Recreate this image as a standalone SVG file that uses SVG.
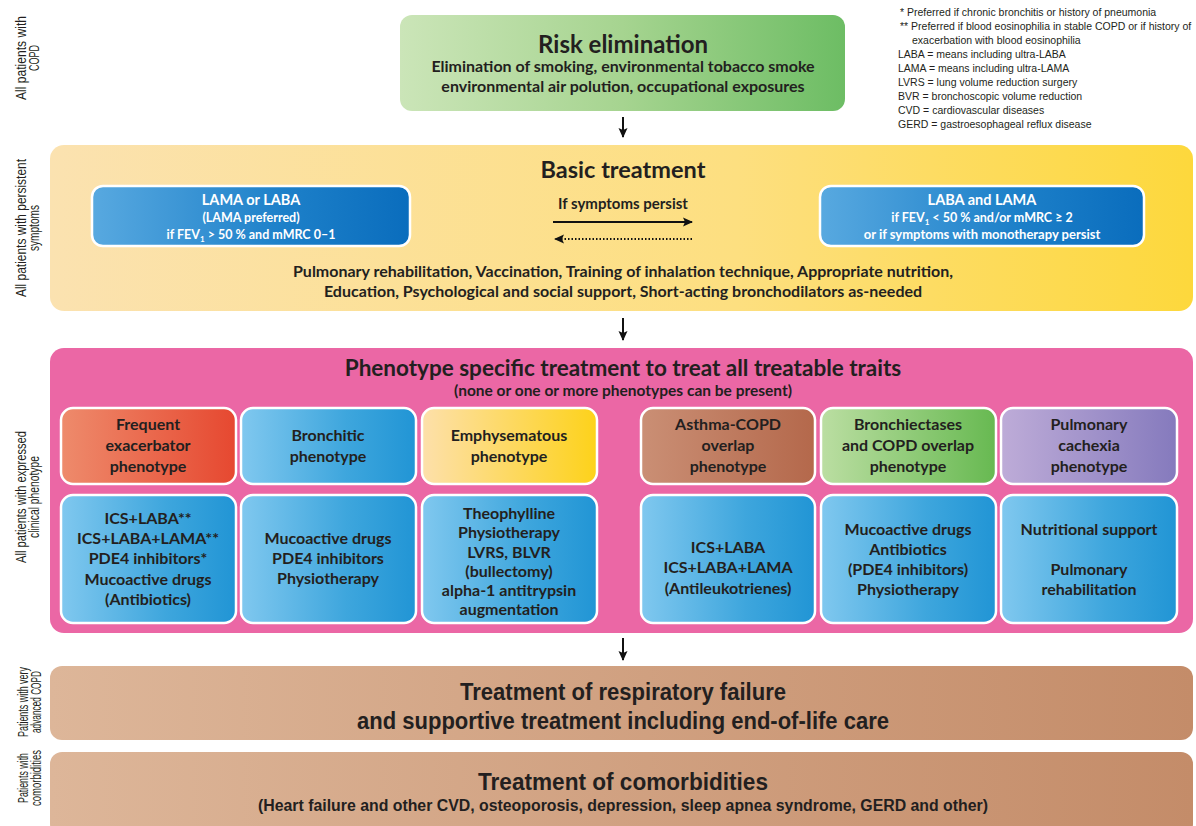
<svg xmlns="http://www.w3.org/2000/svg" width="1196" height="826" viewBox="0 0 1196 826">
<defs>
<style>
.t{font-family:Lato,"Liberation Sans",sans-serif;font-weight:700;fill:#231f20;text-anchor:middle}
.w{fill:#fff}
.n{font-family:"Liberation Sans",sans-serif;font-weight:700;fill:#231f20;text-anchor:middle}
.side{font-family:"Liberation Sans",sans-serif;font-size:14px;fill:#231f20;text-anchor:middle}
.leg{font-family:"Liberation Sans",sans-serif;font-size:10.5px;fill:#231f20}
.ib{stroke:#fff;stroke-width:2.5}
.con{stroke:#111;stroke-width:2;fill:none}
</style>
<linearGradient id="gRisk" x1="0" y1="0" x2="1" y2="0"><stop offset="0" stop-color="#cbe5b8"/><stop offset="0.5" stop-color="#a6d490"/><stop offset="1" stop-color="#6dbd64"/></linearGradient>
<linearGradient id="gBasic" x1="0" y1="0" x2="1" y2="0"><stop offset="0" stop-color="#fbe2b0"/><stop offset="0.6" stop-color="#fddf80"/><stop offset="1" stop-color="#fdd83c"/></linearGradient>
<linearGradient id="gBlueD" x1="0" y1="0" x2="1" y2="0"><stop offset="0" stop-color="#58a9e0"/><stop offset="0.6" stop-color="#1d80c9"/><stop offset="1" stop-color="#0a6dbd"/></linearGradient>
<linearGradient id="gBlue" x1="0" y1="0" x2="1" y2="0"><stop offset="0" stop-color="#80c8ef"/><stop offset="0.6" stop-color="#3ea6dd"/><stop offset="1" stop-color="#2195d5"/></linearGradient>
<linearGradient id="gRed" x1="0" y1="0" x2="1" y2="0"><stop offset="0" stop-color="#ee8b6c"/><stop offset="1" stop-color="#e64830"/></linearGradient>
<linearGradient id="gYel" x1="0" y1="0" x2="1" y2="0"><stop offset="0" stop-color="#fde0ab"/><stop offset="1" stop-color="#fdd21a"/></linearGradient>
<linearGradient id="gBrown" x1="0" y1="0" x2="1" y2="0"><stop offset="0" stop-color="#ca8f75"/><stop offset="1" stop-color="#b4684b"/></linearGradient>
<linearGradient id="gGreen" x1="0" y1="0" x2="1" y2="0"><stop offset="0" stop-color="#bbdea2"/><stop offset="1" stop-color="#67b951"/></linearGradient>
<linearGradient id="gPurp" x1="0" y1="0" x2="1" y2="0"><stop offset="0" stop-color="#beacd8"/><stop offset="1" stop-color="#857abd"/></linearGradient>
<linearGradient id="gTan" x1="0" y1="0" x2="1" y2="0"><stop offset="0" stop-color="#ddb699"/><stop offset="1" stop-color="#c48c69"/></linearGradient>
<marker id="ah" viewBox="0 0 10 10" refX="9" refY="5" markerWidth="10" markerHeight="10" markerUnits="userSpaceOnUse" orient="auto"><path d="M0,0.5 L10,5 L0,9.5 L2,5 z" fill="#111"/></marker>
</defs>
<rect width="1196" height="826" fill="#fff"/>

<g id="side-labels">
<text class="side" transform="translate(26,58) rotate(-90)" textLength="84" lengthAdjust="spacingAndGlyphs">All patients with</text>
<text class="side" transform="translate(39,58) rotate(-90)" textLength="26" lengthAdjust="spacingAndGlyphs">COPD</text>
<text class="side" transform="translate(26,228) rotate(-90)" textLength="138" lengthAdjust="spacingAndGlyphs">All patients with persistent</text>
<text class="side" transform="translate(39,228) rotate(-90)" textLength="46" lengthAdjust="spacingAndGlyphs">symptoms</text>
<text class="side" transform="translate(26,497) rotate(-90)" textLength="132" lengthAdjust="spacingAndGlyphs">All patients with expressed</text>
<text class="side" transform="translate(39,497) rotate(-90)" textLength="82" lengthAdjust="spacingAndGlyphs">clinical phenotype</text>
<text class="side" transform="translate(28,702) rotate(-90)" textLength="70" lengthAdjust="spacingAndGlyphs">Patients with very</text>
<text class="side" transform="translate(41,702) rotate(-90)" textLength="62" lengthAdjust="spacingAndGlyphs">advanced COPD</text>
<text class="side" transform="translate(28,778) rotate(-90)" textLength="50" lengthAdjust="spacingAndGlyphs">Patients with</text>
<text class="side" transform="translate(41,778) rotate(-90)" textLength="56" lengthAdjust="spacingAndGlyphs">comorbidities</text>
</g>

<g id="legend">
<text class="leg" x="900" y="16">* Preferred if chronic bronchitis or history of pneumonia</text>
<text class="leg" x="900" y="30">** Preferred if blood eosinophilia in stable COPD or if history of</text>
<text class="leg" x="912" y="44">exacerbation with blood eosinophilia</text>
<text class="leg" x="898" y="58">LABA = means including ultra-LABA</text>
<text class="leg" x="898" y="72">LAMA = means including ultra-LAMA</text>
<text class="leg" x="898" y="86">LVRS = lung volume reduction surgery</text>
<text class="leg" x="898" y="100">BVR = bronchoscopic volume reduction</text>
<text class="leg" x="898" y="114">CVD = cardiovascular diseases</text>
<text class="leg" x="898" y="128">GERD = gastroesophageal reflux disease</text>
</g>

<g id="risk">
<rect x="400" y="15" width="445" height="96" rx="12" fill="url(#gRisk)"/>
<text class="t" x="623" y="53" font-size="24">Risk elimination</text>
<text class="t" x="623" y="72" font-size="16">Elimination of smoking, environmental tobacco smoke</text>
<text class="t" x="623" y="92" font-size="16">environmental air polution, occupational exposures</text>
</g>

<g id="basic">
<rect x="50" y="145" width="1143" height="166" rx="14" fill="url(#gBasic)"/>
<text class="t" x="623" y="178" font-size="23.5">Basic treatment</text>
<text class="t" x="623" y="209" font-size="15">If symptoms persist</text>
<text class="t" x="623" y="277" font-size="16">Pulmonary rehabilitation, Vaccination, Training of inhalation technique, Appropriate nutrition,</text>
<text class="t" x="623" y="297" font-size="16">Education, Psychological and social support, Short-acting bronchodilators as-needed</text>
</g>
<g id="basic-mono">
<rect x="92" y="186" width="318" height="60" rx="11" fill="url(#gBlueD)" class="ib"/>
<text class="t w" x="251" y="205" font-size="14.5">LAMA or LABA</text>
<text class="t w" x="251" y="222" font-size="12.5">(LAMA preferred)</text>
<text class="t w" x="251" y="239" font-size="12.5">if FEV<tspan font-size="8" dy="3">1</tspan><tspan dy="-3"> &gt; 50 % and mMRC 0–1</tspan></text>
</g>
<g id="basic-dual">
<rect x="820" y="186" width="324" height="60" rx="11" fill="url(#gBlueD)" class="ib"/>
<text class="t w" x="982" y="205" font-size="14.5">LABA and LAMA</text>
<text class="t w" x="982" y="222" font-size="12.5">if FEV<tspan font-size="8" dy="3">1</tspan><tspan dy="-3"> &lt; 50 % and/or mMRC ≥ 2</tspan></text>
<text class="t w" x="982" y="239" font-size="13">or if symptoms with monotherapy persist</text>
</g>

<g id="phenotype">
<rect x="50" y="348" width="1143" height="285" rx="14" fill="#eb67a5"/>
<text class="t" x="623" y="376" font-size="22.5">Phenotype specific treatment to treat all treatable traits</text>
<text class="t" x="623" y="396" font-size="15.5">(none or one or more phenotypes can be present)</text>
</g>

<g id="ph-frequent">
<rect x="61" y="408" width="175" height="76" rx="12" fill="url(#gRed)" class="ib"/>
<text class="t" x="148" y="430" font-size="16">Frequent</text>
<text class="t" x="148" y="451" font-size="16">exacerbator</text>
<text class="t" x="148" y="472" font-size="16">phenotype</text>
</g>
<g id="ph-bronchitic">
<rect x="241" y="408" width="175" height="76" rx="12" fill="url(#gBlue)" class="ib"/>
<text class="t" x="328" y="441" font-size="16">Bronchitic</text>
<text class="t" x="328" y="462" font-size="16">phenotype</text>
</g>
<g id="ph-emphysematous">
<rect x="422" y="408" width="175" height="76" rx="12" fill="url(#gYel)" class="ib"/>
<text class="t" x="509" y="441" font-size="16">Emphysematous</text>
<text class="t" x="509" y="462" font-size="16">phenotype</text>
</g>
<g id="ph-asthma">
<rect x="641" y="408" width="174" height="76" rx="12" fill="url(#gBrown)" class="ib"/>
<text class="t" x="728" y="430" font-size="16">Asthma-COPD</text>
<text class="t" x="728" y="451" font-size="16">overlap</text>
<text class="t" x="728" y="472" font-size="16">phenotype</text>
</g>
<g id="ph-bronchiectases">
<rect x="821" y="408" width="175" height="76" rx="12" fill="url(#gGreen)" class="ib"/>
<text class="t" x="908" y="430" font-size="16">Bronchiectases</text>
<text class="t" x="908" y="451" font-size="16">and COPD overlap</text>
<text class="t" x="908" y="472" font-size="16">phenotype</text>
</g>
<g id="ph-cachexia">
<rect x="1001" y="408" width="176" height="76" rx="12" fill="url(#gPurp)" class="ib"/>
<text class="t" x="1089" y="430" font-size="16">Pulmonary</text>
<text class="t" x="1089" y="451" font-size="16">cachexia</text>
<text class="t" x="1089" y="472" font-size="16">phenotype</text>
</g>

<g id="tx-frequent">
<rect x="61" y="495" width="175" height="128" rx="12" fill="url(#gBlue)" class="ib"/>
<text class="t" x="148" y="524" font-size="16">ICS+LABA**</text>
<text class="t" x="148" y="544" font-size="16">ICS+LABA+LAMA**</text>
<text class="t" x="148" y="564" font-size="16">PDE4 inhibitors*</text>
<text class="t" x="148" y="585" font-size="16">Mucoactive drugs</text>
<text class="t" x="148" y="605" font-size="16">(Antibiotics)</text>
</g>
<g id="tx-bronchitic">
<rect x="241" y="495" width="175" height="128" rx="12" fill="url(#gBlue)" class="ib"/>
<text class="t" x="328" y="544" font-size="16">Mucoactive drugs</text>
<text class="t" x="328" y="564" font-size="16">PDE4 inhibitors</text>
<text class="t" x="328" y="584" font-size="16">Physiotherapy</text>
</g>
<g id="tx-emphysematous">
<rect x="422" y="495" width="175" height="128" rx="12" fill="url(#gBlue)" class="ib"/>
<text class="t" x="509" y="519" font-size="16">Theophylline</text>
<text class="t" x="509" y="538" font-size="16">Physiotherapy</text>
<text class="t" x="509" y="558" font-size="16">LVRS, BLVR</text>
<text class="t" x="509" y="577" font-size="16">(bullectomy)</text>
<text class="t" x="509" y="596" font-size="16">alpha-1 antitrypsin</text>
<text class="t" x="509" y="615" font-size="16">augmentation</text>
</g>
<g id="tx-asthma">
<rect x="641" y="495" width="174" height="128" rx="12" fill="url(#gBlue)" class="ib"/>
<text class="t" x="728" y="553" font-size="16">ICS+LABA</text>
<text class="t" x="728" y="573" font-size="16">ICS+LABA+LAMA</text>
<text class="t" x="728" y="594" font-size="16">(Antileukotrienes)</text>
</g>
<g id="tx-bronchiectases">
<rect x="821" y="495" width="175" height="128" rx="12" fill="url(#gBlue)" class="ib"/>
<text class="t" x="908" y="535" font-size="16">Mucoactive drugs</text>
<text class="t" x="908" y="555" font-size="16">Antibiotics</text>
<text class="t" x="908" y="575" font-size="16">(PDE4 inhibitors)</text>
<text class="t" x="908" y="595" font-size="16">Physiotherapy</text>
</g>
<g id="tx-cachexia">
<rect x="1001" y="495" width="176" height="128" rx="12" fill="url(#gBlue)" class="ib"/>
<text class="t" x="1089" y="535" font-size="16">Nutritional support</text>
<text class="t" x="1089" y="575" font-size="16">Pulmonary</text>
<text class="t" x="1089" y="595" font-size="16">rehabilitation</text>
</g>

<g id="respiratory">
<rect x="50" y="666" width="1143" height="74" rx="12" fill="url(#gTan)"/>
<text class="n" x="623" y="700" font-size="23" textLength="326" lengthAdjust="spacingAndGlyphs">Treatment of respiratory failure</text>
<text class="n" x="623" y="729" font-size="23" textLength="532" lengthAdjust="spacingAndGlyphs">and supportive treatment including end-of-life care</text>
</g>
<g id="comorbidities">
<rect x="50" y="752" width="1143" height="84" rx="12" fill="url(#gTan)"/>
<text class="n" x="623" y="790" font-size="23" textLength="290" lengthAdjust="spacingAndGlyphs">Treatment of comorbidities</text>
<text class="n" x="623" y="811" font-size="16" textLength="730" lengthAdjust="spacingAndGlyphs">(Heart failure and other CVD, osteoporosis, depression, sleep apnea syndrome, GERD and other)</text>
</g>

<g id="connectors">
<line class="con" x1="623" y1="117" x2="623" y2="137" marker-end="url(#ah)"/>
<line class="con" x1="623" y1="318" x2="623" y2="340" marker-end="url(#ah)"/>
<line class="con" x1="623" y1="638" x2="623" y2="660" marker-end="url(#ah)"/>
<line class="con" x1="553" y1="222" x2="692" y2="222" stroke-width="1.5" marker-end="url(#ah)"/>
<line class="con" x1="692" y1="239" x2="555" y2="239" stroke-width="1.5" stroke-dasharray="1.5 2" marker-end="url(#ah)"/>
</g>
</svg>
